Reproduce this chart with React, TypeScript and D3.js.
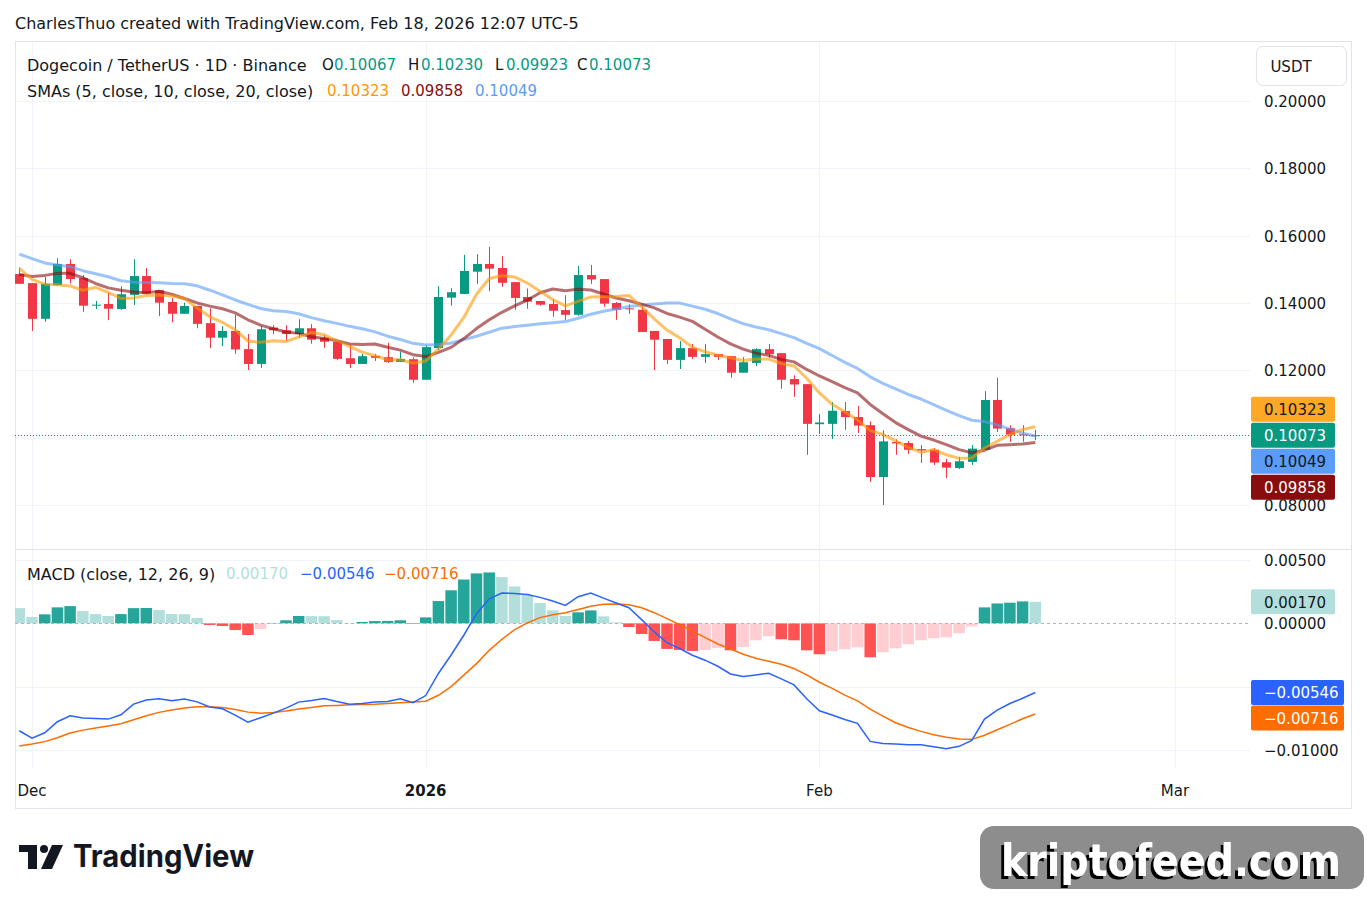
import React from 'react';
import * as d3 from 'd3';

// DOGE/USDT daily candles, first candle on 2025-11-30
const firstDay = '2025-11-30';

const opens = [
  0.1486, 0.1459, 0.1353, 0.1453, 0.1516, 0.1474, 0.1393, 0.1397, 0.1382, 0.1424,
  0.1480, 0.1438, 0.1403, 0.1368, 0.1391, 0.1340, 0.1297, 0.1317, 0.1263, 0.1219,
  0.1327, 0.1319, 0.1308, 0.1325, 0.1297, 0.1285, 0.1236, 0.1219, 0.1243, 0.1239,
  0.1225, 0.1233, 0.1172, 0.1266, 0.1416, 0.1427, 0.1493, 0.1516, 0.1504, 0.1462,
  0.1418, 0.1406, 0.1397, 0.1379, 0.1365, 0.1483, 0.1471, 0.1400, 0.1384, 0.1380,
  0.1317, 0.1293, 0.1231, 0.1266, 0.1240, 0.1248, 0.1242, 0.1193, 0.1222, 0.1263,
  0.1251, 0.1174, 0.1159, 0.1040, 0.1041, 0.1079, 0.1061, 0.1037, 0.0883, 0.0987,
  0.0984, 0.0966, 0.0964, 0.0927, 0.0910, 0.0928, 0.0964, 0.1112, 0.1028, 0.1010,
  0.10067,
];
const highs = [
  0.1505, 0.1459, 0.1478, 0.1533, 0.1530, 0.1483, 0.1406, 0.1430, 0.1450, 0.1530,
  0.1504, 0.1438, 0.1414, 0.1401, 0.1391, 0.1384, 0.1331, 0.1365, 0.1308, 0.1331,
  0.1334, 0.1334, 0.1352, 0.1337, 0.1305, 0.1285, 0.1276, 0.1249, 0.1249, 0.1282,
  0.1255, 0.1239, 0.1275, 0.1450, 0.1444, 0.1543, 0.1545, 0.1567, 0.1539, 0.1462,
  0.1443, 0.1406, 0.1411, 0.1423, 0.1510, 0.1513, 0.1471, 0.1403, 0.1396, 0.1390,
  0.1317, 0.1293, 0.1287, 0.1278, 0.1278, 0.1248, 0.1242, 0.1239, 0.1266, 0.1278,
  0.1251, 0.1185, 0.1159, 0.1070, 0.1106, 0.1106, 0.1094, 0.1048, 0.1022, 0.0995,
  0.0990, 0.0978, 0.0969, 0.0937, 0.0943, 0.0978, 0.1138, 0.1178, 0.1037, 0.1037,
  0.10230,
];
const lows = [
  0.1457, 0.1317, 0.1344, 0.1451, 0.1458, 0.1374, 0.1382, 0.1349, 0.1380, 0.1394,
  0.1426, 0.1361, 0.1343, 0.1368, 0.1325, 0.1267, 0.1272, 0.1249, 0.1201, 0.1207,
  0.1308, 0.1288, 0.1297, 0.1279, 0.1267, 0.1230, 0.1207, 0.1219, 0.1228, 0.1222,
  0.1225, 0.1163, 0.1172, 0.1260, 0.1392, 0.1427, 0.1457, 0.1435, 0.1448, 0.1380,
  0.1383, 0.1392, 0.1359, 0.1350, 0.1362, 0.1457, 0.1389, 0.1350, 0.1368, 0.1314,
  0.1201, 0.1219, 0.1204, 0.1234, 0.1222, 0.1231, 0.1178, 0.1193, 0.1213, 0.1237,
  0.1145, 0.1121, 0.0949, 0.1011, 0.0996, 0.1023, 0.1014, 0.0869, 0.0800, 0.0949,
  0.0952, 0.0925, 0.0919, 0.0880, 0.0907, 0.0919, 0.0964, 0.1017, 0.0988, 0.0988,
  0.09923,
];
const closes = [
  0.1457, 0.1353, 0.1457, 0.1516, 0.1471, 0.1392, 0.1395, 0.1383, 0.1426, 0.1480,
  0.1428, 0.1401, 0.1368, 0.1391, 0.1338, 0.1297, 0.1317, 0.1262, 0.1219, 0.1322,
  0.1319, 0.1308, 0.1325, 0.1291, 0.1285, 0.1234, 0.1219, 0.1242, 0.1237, 0.1225,
  0.1234, 0.1172, 0.1269, 0.1418, 0.1432, 0.1495, 0.1516, 0.1502, 0.1460, 0.1415,
  0.1404, 0.1395, 0.1377, 0.1365, 0.1483, 0.1470, 0.1398, 0.1380, 0.1381, 0.1314,
  0.1291, 0.1231, 0.1266, 0.1240, 0.1248, 0.1240, 0.1193, 0.1224, 0.1263, 0.1248,
  0.1172, 0.1158, 0.1041, 0.1045, 0.1080, 0.1061, 0.1036, 0.0883, 0.0989, 0.0983,
  0.0964, 0.0962, 0.0926, 0.0911, 0.0930, 0.09675, 0.1112, 0.1027, 0.10086, 0.10066,
  0.10073,
];

// SMA values for the first days (their history is off-screen)
const sma5Head = [0.1503, 0.1470, 0.1456, 0.1454];
const sma10Head = [0.1485, 0.1479, 0.1482, 0.1488, 0.1488, 0.1475, 0.1458, 0.1445, 0.1438];
const sma20Head = [
  0.1545, 0.1532, 0.1519, 0.1513, 0.1508, 0.1496, 0.1487, 0.1478, 0.1466, 0.1462,
  0.1461, 0.1460, 0.1458, 0.1457, 0.1451, 0.1438, 0.1424, 0.1409, 0.1396,
];

// MACD (12, 26, 9)
const macdLine = [
  -0.00848, -0.00906, -0.00864, -0.00777, -0.00730, -0.00748, -0.00751, -0.00756, -0.00722, -0.00638,
  -0.00606, -0.00596, -0.00612, -0.00598, -0.00620, -0.00661, -0.00675, -0.00724, -0.00780, -0.00745,
  -0.00709, -0.00669, -0.00622, -0.00609, -0.00593, -0.00617, -0.00638, -0.00633, -0.00622, -0.00617,
  -0.00596, -0.00627, -0.00570, -0.00396, -0.00250, -0.00094, 0.00076, 0.00194, 0.00239, 0.00236,
  0.00228, 0.00205, 0.00176, 0.00142, 0.00210, 0.00239, 0.00199, 0.00160, 0.00123, 0.00029,
  -0.00068, -0.00152, -0.00199, -0.00252, -0.00291, -0.00339, -0.00400, -0.00420, -0.00407, -0.00394,
  -0.00438, -0.00486, -0.00596, -0.00690, -0.00724, -0.00759, -0.00790, -0.00932, -0.00948, -0.00953,
  -0.00958, -0.00958, -0.00974, -0.00990, -0.00971, -0.00924, -0.00756, -0.00685, -0.00633, -0.00591,
  -0.00546,
];
const signalLine = [
  -0.00969, -0.00953, -0.00934, -0.00903, -0.00866, -0.00843, -0.00827, -0.00811, -0.00793, -0.00761,
  -0.00730, -0.00703, -0.00685, -0.00669, -0.00659, -0.00659, -0.00664, -0.00680, -0.00701, -0.00709,
  -0.00703, -0.00693, -0.00677, -0.00664, -0.00651, -0.00648, -0.00643, -0.00640, -0.00638, -0.00633,
  -0.00627, -0.00622, -0.00615, -0.00568, -0.00500, -0.00409, -0.00318, -0.00213, -0.00126, -0.00050,
  0.00003, 0.00045, 0.00068, 0.00084, 0.00110, 0.00134, 0.00150, 0.00152, 0.00147, 0.00123,
  0.00084, 0.00037, -0.00010, -0.00060, -0.00113, -0.00163, -0.00203, -0.00244, -0.00276, -0.00299,
  -0.00323, -0.00357, -0.00407, -0.00465, -0.00514, -0.00567, -0.00612, -0.00677, -0.00732, -0.00785,
  -0.00822, -0.00853, -0.00880, -0.00900, -0.00913, -0.00916, -0.00884, -0.00840, -0.00798, -0.00753,
  -0.00716,
];
const histogram = [
  0.00120, 0.00050, 0.00071, 0.00126, 0.00136, 0.00097, 0.00073, 0.00058, 0.00073, 0.00120,
  0.00121, 0.00105, 0.00073, 0.00072, 0.00042, -0.00013, -0.00021, -0.00053, -0.00092, -0.00045,
  0.00003, 0.00024, 0.00058, 0.00057, 0.00056, 0.00026, 0.00003, 0.00011, 0.00018, 0.00019,
  0.00024, -0.00005, 0.00047, 0.00176, 0.00261, 0.00346, 0.00394, 0.00402, 0.00365, 0.00291,
  0.00223, 0.00160, 0.00102, 0.00058, 0.00087, 0.00102, 0.00055, 0.00008, -0.00029, -0.00084,
  -0.00139, -0.00202, -0.00210, -0.00218, -0.00210, -0.00194, -0.00213, -0.00187, -0.00134, -0.00102,
  -0.00126, -0.00134, -0.00213, -0.00244, -0.00220, -0.00205, -0.00189, -0.00268, -0.00228, -0.00197,
  -0.00165, -0.00134, -0.00118, -0.00110, -0.00079, -0.00024, 0.00126, 0.00157, 0.00163, 0.00173,
  0.00170,
];

const priceTicks = [0.08, 0.10, 0.12, 0.14, 0.16, 0.18, 0.20];
const macdTicks = [-0.01, -0.005, 0, 0.005];
const macdTickLabels = [-0.01, 0, 0.005];
const timeTicks = [
  { date: '2025-12-01', label: 'Dec', bold: false },
  { date: '2026-01-01', label: '2026', bold: true },
  { date: '2026-02-01', label: 'Feb', bold: false },
  { date: '2026-03-01', label: 'Mar', bold: false },
];

const FONT = "'DejaVu Sans', 'Noto Sans', sans-serif";
const FS = 15; // numbers
const FS_TEXT = 16; // words
const TXT = '#131722';
const UP = '#089981';
const DOWN = '#f23645';
const GRID = '#f0f3fa';
const BORDER = '#e0e3eb';

const sma = (n: number, head: number[]) =>
  closes.map((_, i) => (i < n - 1 ? head[i] : (d3.mean(closes.slice(i - n + 1, i + 1)) as number)));

const App: React.FC = () => {
  const svgRef = React.useRef<SVGSVGElement>(null);

  React.useEffect(() => {
    if (!svgRef.current) return;
    const svg = d3.select(svgRef.current);
    svg.selectAll('*').remove();

    const left = 15, plotRight = 1250, frameRight = 1351;
    const top = 41, split = 549, paneBottom = 769, bottom = 808;
    const axisX = 1264;

    const dates = closes.map((_, i) => d3.utcDay.offset(new Date(firstDay), i));
    const x = d3.scaleUtc()
      .domain([new Date('2025-12-01'), new Date('2026-03-01')])
      .range([32, 1175]);
    const y = d3.scaleLinear().domain([0.08, 0.2]).range([505, 101]);
    const ym = d3.scaleLinear().domain([-0.01, 0.005]).range([750, 560]);
    const step = x(dates[1]) - x(dates[0]);
    const fmt = d3.format('.5f');

    const s5 = sma(5, sma5Head);
    const s10 = sma(10, sma10Head);
    const s20 = sma(20, sma20Head);
    const last = closes.length - 1;

    const defs = svg.append('defs');
    defs.append('clipPath').attr('id', 'clipMain').append('rect')
      .attr('x', left).attr('y', top).attr('width', plotRight - left).attr('height', split - top);
    defs.append('clipPath').attr('id', 'clipMacd').append('rect')
      .attr('x', left).attr('y', split).attr('width', plotRight - left).attr('height', paneBottom - split);
    const shadow = defs.append('filter').attr('id', 'wmShadow')
      .attr('x', '-5%').attr('y', '-20%').attr('width', '110%').attr('height', '140%');
    shadow.append('feDropShadow').attr('dx', -3).attr('dy', 3).attr('stdDeviation', 0)
      .attr('flood-color', '#000').attr('flood-opacity', 1);

    svg.append('rect').attr('width', 1367).attr('height', 900).attr('fill', '#ffffff');

    // header
    svg.append('text').attr('x', 15).attr('y', 23).attr('dominant-baseline', 'central')
      .attr('font-size', FS_TEXT).attr('fill', TXT)
      .text('CharlesThuo created with TradingView.com, Feb 18, 2026 12:07 UTC-5');

    // grid
    const grid = svg.append('g').attr('stroke', GRID).attr('stroke-width', 1);
    grid.selectAll('line.v').data(timeTicks).join('line')
      .attr('x1', d => Math.round(x(new Date(d.date))) + 0.5)
      .attr('x2', d => Math.round(x(new Date(d.date))) + 0.5)
      .attr('y1', top).attr('y2', paneBottom);
    grid.selectAll('line.p').data(priceTicks).join('line')
      .attr('x1', left).attr('x2', plotRight)
      .attr('y1', d => Math.round(y(d)) + 0.5).attr('y2', d => Math.round(y(d)) + 0.5);
    grid.selectAll('line.m').data(macdTicks.filter(t => t !== 0)).join('line')
      .attr('x1', left).attr('x2', plotRight)
      .attr('y1', d => Math.round(ym(d)) + 0.5).attr('y2', d => Math.round(ym(d)) + 0.5);

    // frame
    svg.append('rect')
      .attr('x', left + 0.5).attr('y', top + 0.5)
      .attr('width', frameRight - left).attr('height', bottom - top)
      .attr('fill', 'none').attr('stroke', BORDER);
    svg.append('line')
      .attr('x1', left).attr('x2', frameRight).attr('y1', split + 0.5).attr('y2', split + 0.5)
      .attr('stroke', BORDER);

    // main pane
    const main = svg.append('g').attr('clip-path', 'url(#clipMain)');
    const candles = dates.map((date, i) => ({
      date, o: opens[i], h: highs[i], l: lows[i], c: closes[i],
    }));
    const bodyW = Math.max(1, Math.round(step * 0.7));
    const cg = main.selectAll('g.candle').data(candles).join('g').attr('class', 'candle');
    cg.append('line')
      .attr('x1', d => Math.round(x(d.date)) + 0.5)
      .attr('x2', d => Math.round(x(d.date)) + 0.5)
      .attr('y1', d => y(d.h)).attr('y2', d => y(d.l))
      .attr('stroke', d => (d.c >= d.o ? UP : DOWN)).attr('stroke-width', 1);
    cg.append('rect')
      .attr('x', d => Math.round(x(d.date)) - (bodyW - 1) / 2)
      .attr('width', bodyW)
      .attr('y', d => y(Math.max(d.o, d.c)))
      .attr('height', d => Math.max(1, Math.abs(y(d.o) - y(d.c))))
      .attr('fill', d => (d.c >= d.o ? UP : DOWN));

    const smaLine = d3.line<number>().x((_, i) => x(dates[i])).y(d => y(d));
    [
      { data: s20, color: '#5b9cf6' },
      { data: s10, color: '#880e0e' },
      { data: s5, color: '#ff9800' },
    ].forEach(s => {
      main.append('path').datum(s.data)
        .attr('fill', 'none').attr('stroke', s.color).attr('stroke-opacity', 0.6)
        .attr('stroke-width', 3).attr('stroke-linejoin', 'round').attr('d', smaLine);
    });

    main.append('line')
      .attr('x1', left).attr('x2', plotRight)
      .attr('y1', Math.round(y(closes[last])) + 0.5).attr('y2', Math.round(y(closes[last])) + 0.5)
      .attr('stroke', UP).attr('stroke-dasharray', '1 2');

    // macd pane
    const mp = svg.append('g').attr('clip-path', 'url(#clipMacd)');
    const barW = step - 1.2;
    mp.selectAll('rect.hist').data(histogram).join('rect').attr('class', 'hist')
      .attr('x', (_, i) => x(dates[i]) - barW / 2)
      .attr('width', barW)
      .attr('y', d => Math.min(ym(d), ym(0)))
      .attr('height', d => Math.abs(ym(d) - ym(0)))
      .attr('fill', (d, i) => {
        const prev = i > 0 ? histogram[i - 1] : d;
        if (d >= 0) return d > prev ? '#26a69a' : '#b2dfdb';
        return d < prev ? '#ff5252' : '#ffcdd2';
      });
    mp.append('line')
      .attr('x1', left).attr('x2', plotRight)
      .attr('y1', Math.round(ym(0)) + 0.5).attr('y2', Math.round(ym(0)) + 0.5)
      .attr('stroke', '#b2b5be').attr('stroke-dasharray', '3 3');
    const mLine = d3.line<number>().x((_, i) => x(dates[i])).y(d => ym(d));
    mp.append('path').datum(signalLine).attr('fill', 'none')
      .attr('stroke', '#ff6d00').attr('stroke-width', 1.5).attr('d', mLine);
    mp.append('path').datum(macdLine).attr('fill', 'none')
      .attr('stroke', '#2962ff').attr('stroke-width', 1.5).attr('d', mLine);

    // price axis
    const axis = svg.append('g').attr('font-size', FS).attr('fill', TXT);
    axis.selectAll('text.p').data(priceTicks).join('text')
      .attr('x', axisX).attr('y', d => y(d) + 1).attr('dominant-baseline', 'central')
      .text(d => fmt(d));
    axis.selectAll('text.m').data(macdTickLabels).join('text')
      .attr('x', axisX).attr('y', d => ym(d) + 1).attr('dominant-baseline', 'central')
      .text(d => fmt(d));

    // USDT box
    svg.append('rect').attr('x', 1256.5).attr('y', 46.5).attr('width', 90).attr('height', 39)
      .attr('rx', 6).attr('fill', '#fff').attr('stroke', BORDER);
    svg.append('text').attr('x', 1291).attr('y', 67).attr('text-anchor', 'middle')
      .attr('dominant-baseline', 'central').attr('font-size', FS).attr('fill', TXT).text('USDT');

    // value boxes
    const drawTag = (cy: number, v: number, bg: string, fg: string) => {
      const t = fmt(v);
      const w = t.length * 9 + 21;
      svg.append('rect').attr('x', 1251).attr('y', cy - 12.5).attr('width', w).attr('height', 25)
        .attr('rx', 2).attr('fill', bg);
      svg.append('text').attr('x', axisX).attr('y', cy + 1).attr('dominant-baseline', 'central')
        .attr('font-size', FS).attr('fill', fg).text(t);
    };
    const closeY = y(closes[last]);
    drawTag(closeY - 26, s5[last], '#ffa726', TXT);
    drawTag(closeY, closes[last], UP, '#ffffff');
    drawTag(closeY + 26, s20[last], '#5b9cf6', TXT);
    drawTag(closeY + 52, s10[last], '#880e0e', '#ffffff');

    drawTag(ym(histogram[last]), histogram[last], '#b2dfdb', TXT);
    const macdY = ym(macdLine[last]);
    const sigY = Math.max(ym(signalLine[last]), macdY + 25.5);
    drawTag(macdY, macdLine[last], '#2962ff', '#ffffff');
    drawTag(sigY, signalLine[last], '#ff6d00', '#ffffff');

    // time axis
    svg.append('g').selectAll('text').data(timeTicks).join('text')
      .attr('x', d => x(new Date(d.date))).attr('y', 791)
      .attr('text-anchor', 'middle').attr('dominant-baseline', 'central')
      .attr('font-size', FS).attr('font-weight', d => (d.bold ? 700 : 400)).attr('fill', TXT)
      .text(d => d.label);

    // legends
    const legend = (yy: number, parts: { x: number; t: string; c: string; fs?: number }[]) => {
      const g = svg.append('g');
      parts.forEach(p => {
        g.append('text').attr('x', p.x).attr('y', yy).attr('dominant-baseline', 'central')
          .attr('font-size', p.fs ?? FS).attr('fill', p.c).text(p.t);
      });
    };
    legend(65, [
      { x: 27, t: 'Dogecoin / TetherUS · 1D · Binance', c: TXT, fs: FS_TEXT },
      { x: 322, t: 'O', c: TXT }, { x: 334, t: fmt(opens[last]), c: UP },
      { x: 408, t: 'H', c: TXT }, { x: 421, t: fmt(highs[last]), c: UP },
      { x: 495, t: 'L', c: TXT }, { x: 506, t: fmt(lows[last]), c: UP },
      { x: 577, t: 'C', c: TXT }, { x: 589, t: fmt(closes[last]), c: UP },
    ]);
    legend(91, [
      { x: 27, t: 'SMAs (5, close, 10, close, 20, close)', c: TXT, fs: FS_TEXT },
      { x: 327, t: fmt(s5[last]), c: '#ff9800' },
      { x: 401, t: fmt(s10[last]), c: '#880e0e' },
      { x: 475, t: fmt(s20[last]), c: '#5b9cf6' },
    ]);
    legend(574, [
      { x: 27, t: 'MACD (close, 12, 26, 9)', c: TXT, fs: FS_TEXT },
      { x: 226, t: fmt(histogram[last]), c: '#b2dfdb' },
      { x: 300, t: fmt(macdLine[last]), c: '#2962ff' },
      { x: 384, t: fmt(signalLine[last]), c: '#ff6d00' },
    ]);

    // TradingView logo
    const logo = svg.append('g').attr('fill', TXT);
    logo.append('path').attr('d', 'M19 845 H37 V869 H28 V852 H19 Z');
    logo.append('circle').attr('cx', 44).attr('cy', 849).attr('r', 4);
    logo.append('path').attr('d', 'M52 845 H63 L52 869 H41 Z');
    logo.append('text').attr('x', 73).attr('y', 867).attr('font-size', 31)
      .attr('font-weight', 700).attr('font-family', "'Inter', 'Noto Sans', sans-serif")
      .attr('textLength', 181).attr('lengthAdjust', 'spacingAndGlyphs').text('TradingView');

    // watermark
    svg.append('rect').attr('x', 980).attr('y', 826).attr('width', 384).attr('height', 63)
      .attr('rx', 14).attr('fill', '#8d8d8d');
    svg.append('text').attr('x', 1001).attr('y', 876).attr('fill', '#fff')
      .attr('font-size', 44).attr('font-weight', 700)
      .attr('font-family', "'DejaVu Sans', sans-serif")
      .attr('filter', 'url(#wmShadow)')
      .attr('textLength', 340).attr('lengthAdjust', 'spacingAndGlyphs').text('kriptofeed.com');
  }, []);

  return (
    <div>
      <style>{'body{margin:0}'}</style>
      <svg ref={svgRef} width={1367} height={900} style={{ display: 'block', fontFamily: FONT }} />
    </div>
  );
};

export default App;
